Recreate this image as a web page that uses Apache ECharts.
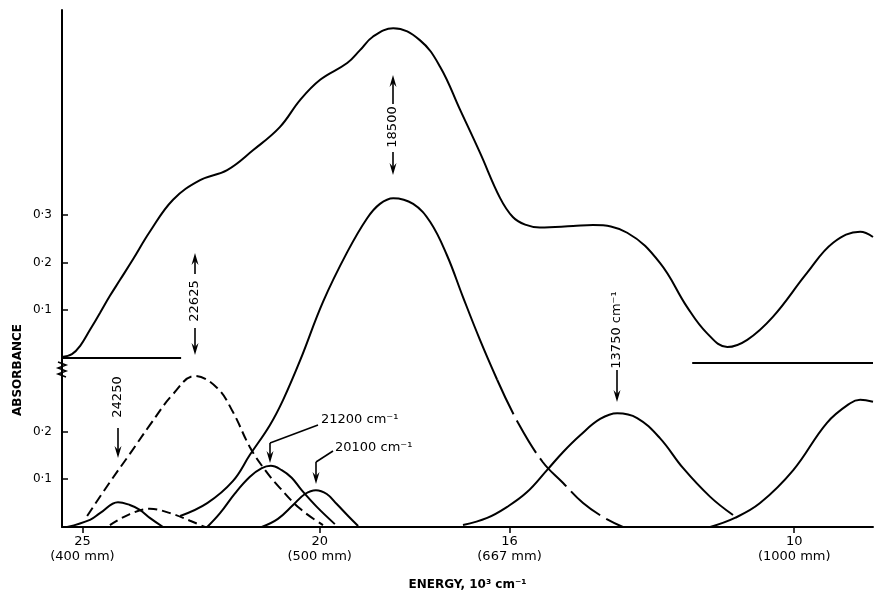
<!DOCTYPE html>
<html>
<head>
<meta charset="utf-8">
<title>Absorbance spectrum</title>
<script src="https://cdn.jsdelivr.net/npm/echarts@6.0.0/dist/echarts.min.js"></script>
<style>
  html, body { margin: 0; padding: 0; background: #fff; }
  #chart { width: 877px; height: 595px; }
</style>
</head>
<body>
<div id="chart"></div>
<script>
// energy in 10^3 cm-1 (axis runs high -> low), absorbance
const energyTicks = [25, 20, 16, 10];
const wavelengthLabels = ['400 mm', '500 mm', '667 mm', '1000 mm'];
const lowerTicks = [0.1, 0.2];
const upperTicks = [0.1, 0.2, 0.3];

// upper trace: observed spectrum (own baseline)
const observed = [
  [25.43, 0.002], [25.22, 0.008], [25.05, 0.025], [24.84, 0.059], [24.63, 0.094],
  [24.42, 0.130], [24.21, 0.163], [23.93, 0.207], [23.58, 0.264], [23.09, 0.331],
  [22.52, 0.372], [21.95, 0.393], [21.40, 0.435], [20.84, 0.483], [20.41, 0.540],
  [19.99, 0.582], [19.42, 0.617], [19.15, 0.644], [18.88, 0.672], [18.45, 0.690],
  [17.89, 0.665], [17.46, 0.609], [17.04, 0.519], [16.62, 0.429], [16.20, 0.335],
  [15.93, 0.295], [15.67, 0.279], [15.36, 0.273], [14.66, 0.276], [14.24, 0.278],
  [13.52, 0.262], [12.83, 0.199], [12.26, 0.107], [11.84, 0.052], [11.41, 0.023],
  [10.99, 0.038], [10.45, 0.086], [9.73, 0.178], [9.18, 0.241], [8.61, 0.264], [8.34, 0.253]
];
const upperBaseLeft = [[25.43, 0], [22.92, 0]];
const upperBaseRight = [[12.15, -0.0105], [8.34, -0.0105]];

// lower traces: resolved bands
const band24250 = [
  [25.32, 0], [24.84, 0.015], [24.63, 0.029], [24.25, 0.052], [24.00, 0.046],
  [23.79, 0.036], [23.58, 0.019], [23.30, 0]
];
const band23600 = [
  [24.42, 0.004], [24.00, 0.027], [23.58, 0.038], [23.15, 0.029], [22.73, 0.013], [22.42, 0]
];
const band22625 = [
  [24.90, 0.023], [24.42, 0.094], [24.00, 0.153], [23.58, 0.213], [23.09, 0.278],
  [22.63, 0.316], [22.16, 0.291], [21.83, 0.241], [21.47, 0.167], [21.15, 0.119],
  [20.84, 0.082], [20.41, 0.038], [19.93, 0.004]
];
const band21200 = [
  [22.37, 0], [22.10, 0.029], [21.78, 0.071], [21.47, 0.105], [21.22, 0.123],
  [21.03, 0.128], [20.80, 0.119], [20.59, 0.103], [20.38, 0.077], [20.06, 0.042], [19.68, 0.006]
];
const band20100 = [
  [21.22, 0], [20.88, 0.017], [20.56, 0.046], [20.31, 0.069], [20.08, 0.077],
  [19.85, 0.069], [19.64, 0.048], [19.40, 0.023], [19.19, 0.002]
];
const band18500 = [
  [22.94, 0.023], [22.37, 0.050], [21.83, 0.096], [21.47, 0.151], [21.05, 0.213],
  [20.77, 0.266], [20.41, 0.349], [19.93, 0.471], [19.42, 0.575], [19.00, 0.646],
  [18.73, 0.676], [18.45, 0.688], [18.03, 0.676], [17.67, 0.638], [17.32, 0.569],
  [16.98, 0.481], [16.62, 0.391], [16.26, 0.308]
];
const band18500Tail = [
  [16.26, 0.308], [15.82, 0.218], [15.30, 0.136], [14.87, 0.092], [14.45, 0.050],
  [14.03, 0.021], [13.61, 0]
];
const band13750 = [
  [16.98, 0.004], [16.47, 0.019], [16.05, 0.042], [15.63, 0.073], [15.21, 0.119],
  [14.87, 0.157], [14.51, 0.192], [14.09, 0.226], [13.73, 0.238], [13.31, 0.228],
  [12.83, 0.186], [12.34, 0.123], [11.77, 0.063], [11.29, 0.025]
];
const band8600 = [
  [11.77, 0], [11.25, 0.019], [10.72, 0.050], [10.02, 0.119], [9.31, 0.218],
  [8.82, 0.259], [8.61, 0.266], [8.34, 0.262]
];

const FONT = '"DejaVu Sans", sans-serif';
const dot = v => v.toFixed(1).replace('.', '\u00b7');

function curve(data, yAxisIndex, dash) {
  return {
    type: 'line',
    data: data,
    yAxisIndex: yAxisIndex,
    smooth: 0.4,
    symbol: 'none',
    silent: true,
    lineStyle: { color: '#000', width: 2, type: dash || 'solid' }
  };
}

// arrow from y1 to tip at y2, at x
function arrow(x, y1, y2) {
  const d = y2 > y1 ? 1 : -1;
  return [
    { type: 'line', shape: { x1: x, y1: y1, x2: x, y2: y2 - d * 6 }, style: { stroke: '#000', lineWidth: 1.6 } },
    { type: 'polygon', shape: { points: [[x - 3.5, y2 - d * 12], [x, y2], [x + 3.5, y2 - d * 12], [x, y2 - d * 8]] },
      style: { fill: '#000' } }
  ];
}
function vText(text, x, y) {
  return { type: 'text', x: x, y: y, rotation: Math.PI / 2,
    style: { text: text, font: '13px ' + FONT, fill: '#000', align: 'center', verticalAlign: 'middle' } };
}
function hText(text, x, y) {
  return { type: 'text', x: x, y: y,
    style: { text: text, font: '13px ' + FONT, fill: '#000', align: 'left', verticalAlign: 'middle' } };
}

const notes = [].concat(
  arrow(195, 274, 253), vText('22625', 195, 301), arrow(195, 328, 355),
  arrow(393, 104, 75), vText('18500', 393, 127), arrow(393, 152, 175),
  vText('13750 cm\u207b\u00b9', 617, 330), arrow(617, 370, 402),
  vText('24250', 118, 397), arrow(118, 428, 458),
  hText('21200 cm\u207b\u00b9', 321, 420),
  { type: 'line', shape: { x1: 318, y1: 425, x2: 270, y2: 443 }, style: { stroke: '#000', lineWidth: 1.6 } },
  arrow(270, 443, 463),
  hText('20100 cm\u207b\u00b9', 335, 448),
  { type: 'line', shape: { x1: 333, y1: 451, x2: 316, y2: 462 }, style: { stroke: '#000', lineWidth: 1.6 } },
  arrow(316, 462, 484),
  // axis break mark
  { type: 'polyline', shape: { points: [[58, 362], [66, 365], [58, 368], [66, 371], [58, 374], [66, 377]] },
    style: { stroke: '#000', lineWidth: 1.5, fill: null } },
  { type: 'text', x: 18, y: 370, rotation: Math.PI / 2,
    style: { text: 'ABSORBANCE', font: 'bold 12px ' + FONT, fill: '#000', align: 'center', verticalAlign: 'middle' } }
);

const chart = echarts.init(document.getElementById('chart'), null, { renderer: 'canvas' });

const yCommon = {
  type: 'value',
  position: 'left',
  splitLine: { show: false },
  axisTick: { inside: true, length: 6, lineStyle: { color: '#000', width: 1.5 } },
  axisLabel: { color: '#000', fontFamily: FONT, fontSize: 12, margin: 10, formatter: dot }
};

chart.setOption({
  animation: false,
  backgroundColor: '#fff',
  grid: { left: 62, right: 4, top: 10, bottom: 68, outerBoundsMode: 'none' },
  xAxis: {
    type: 'value',
    inverse: true,
    min: 8.34,
    max: 25.43,
    splitLine: { show: false },
    axisLine: { onZero: false, lineStyle: { color: '#000', width: 2 } },
    axisTick: { customValues: energyTicks, length: 6, lineStyle: { color: '#000', width: 1.5 } },
    axisLabel: {
      customValues: energyTicks,
      color: '#000', fontFamily: FONT, fontSize: 13, lineHeight: 15, margin: 7,
      formatter: v => v + '\n(' + wavelengthLabels[energyTicks.indexOf(v)] + ')'
    },
    name: 'ENERGY, 10\u00b3 cm\u207b\u00b9',
    nameLocation: 'middle',
    nameGap: 52,
    nameTextStyle: { color: '#000', fontFamily: FONT, fontSize: 12, fontWeight: 'bold' }
  },
  yAxis: [
    Object.assign({}, yCommon, {
      min: 0, max: 1.0816,
      axisLine: { show: true, onZero: false, lineStyle: { color: '#000', width: 2 } },
      axisTick: Object.assign({}, yCommon.axisTick, { customValues: lowerTicks }),
      axisLabel: Object.assign({}, yCommon.axisLabel, { customValues: lowerTicks })
    }),
    Object.assign({}, yCommon, {
      min: -0.3536, max: 0.728,
      axisLine: { show: false },
      axisTick: Object.assign({}, yCommon.axisTick, { customValues: upperTicks }),
      axisLabel: Object.assign({}, yCommon.axisLabel, { customValues: upperTicks })
    })
  ],
  series: [
    curve(observed, 1),
    curve(upperBaseLeft, 1),
    curve(upperBaseRight, 1),
    curve(band24250, 0),
    curve(band23600, 0, [9, 5]),
    curve(band22625, 0, [10, 5]),
    curve(band21200, 0),
    curve(band20100, 0),
    curve(band18500, 0),
    curve(band18500Tail, 0, [38, 7]),
    curve(band13750, 0),
    curve(band8600, 0)
  ],
  graphic: notes
});
</script>
</body>
</html>
